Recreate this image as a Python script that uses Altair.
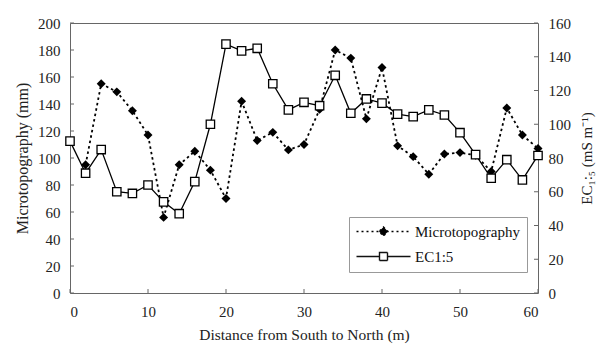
import altair as alt
import pandas as pd

# ---- data ----
distance = [0, 2, 4, 6, 8, 10, 12, 14, 16, 18, 20, 22, 24, 26, 28, 30,
            32, 34, 36, 38, 40, 42, 44, 46, 48, 50, 52, 54, 56, 58, 60]
microtopography = [None, 95, 155, 149, 135, 117, 56, 95, 105, 91, 70, 142, 113, 119, 106, 110,
                   136, 180, 174, 129, 167, 109, 101, 88, 103, 104, 102, 90, 137, 117, 107]
ec15 = [90, 71, 85, 60, 59, 64, 54, 47, 66, 100, 147.5, 143.5, 145, 124, 108.5, 113,
        111, 129, 106.5, 115, 112.5, 106, 104.5, 108.5, 105.5, 95, 82, 68, 79, 67, 81.5]

left_ticks = [0, 20, 40, 60, 80, 100, 120, 140, 160, 180, 200]
right_ticks = [0, 20, 40, 60, 80, 100, 120, 140, 160]
x_ticks = [0, 10, 20, 30, 40, 50, 60]
series_names = ["Microtopography", "EC1:5"]

W, H = 468, 270
FONT = "Liberation Serif"

micro_df = pd.DataFrame({"x": distance, "val": microtopography}).dropna()
ec_df = pd.DataFrame({"x": distance, "val": ec15})
lt_df = pd.DataFrame({"val": left_ticks})
rt_df = pd.DataFrame({"val": right_ticks})
xt_df = pd.DataFrame({"x": x_ticks})
leg_df = pd.DataFrame({"series": series_names, "x": [-100, -100]})

x_enc = alt.X("x:Q", scale=alt.Scale(domain=[0, 60], nice=False),
              axis=alt.Axis(values=x_ticks, title="Distance from South to North  (m)",
                            ticks=False, domain=False, grid=False, labelPadding=11,
                            titlePadding=8, labelFontSize=15, titleFontSize=15.5,
                            titleFontWeight="normal"))

y_left = alt.Y("val:Q", scale=alt.Scale(domain=[0, 200], nice=False),
               axis=alt.Axis(values=left_ticks, title="Microtopography (mm)", orient="left",
                             ticks=False, domain=False, grid=False, labelPadding=10,
                             titlePadding=7, labelFontSize=15, titleFontSize=16,
                             titleFontWeight="normal"))

y_right = alt.Y("val:Q", scale=alt.Scale(domain=[0, 160], nice=False),
                axis=alt.Axis(values=right_ticks, title="EC\u2081:\u2085 (mS m\u207b\u00b9)",
                              orient="right", ticks=False, domain=False, grid=False,
                              labelPadding=10, titlePadding=24, labelFontSize=15,
                              titleFontSize=15, titleFontWeight="normal", titleAngle=270))

micro_line = alt.Chart(micro_df).mark_line(color="black", strokeWidth=1.8,
                                           strokeDash=[2.5, 3]).encode(x=x_enc, y=y_left)
micro_pts = alt.Chart(micro_df).mark_point(shape="diamond", filled=True, color="black",
                                           size=80, opacity=1).encode(x=x_enc, y=y_left)
left_tk = alt.Chart(lt_df).mark_rule(color="#666", strokeWidth=1).encode(
    y=y_left, x=alt.value(0), x2=alt.value(4))
bottom_tk = alt.Chart(xt_df).mark_rule(color="#666", strokeWidth=1).encode(
    x=x_enc, y=alt.value(H), y2=alt.value(H - 4))

ec_line = alt.Chart(ec_df).mark_line(color="black", strokeWidth=1.3).encode(x=x_enc, y=y_right)
ec_pts = alt.Chart(ec_df).mark_point(shape="square", filled=True, fill="white",
                                     stroke="black", strokeWidth=1.3, size=70,
                                     opacity=1).encode(x=x_enc, y=y_right)
right_tk = alt.Chart(rt_df).mark_rule(color="#666", strokeWidth=1).encode(
    y=y_right, x=alt.value(W - 4), x2=alt.value(W))

# legend symbols: line + marker, shifted right inside the path so no symbolOffset is needed
micro_path = "M-1.4,0L9.4,0M4,-0.9L4.9,0L4,0.9L3.1,0Z"
ec_path = "M-1.4,0L3.2,0M4.8,0L9.4,0M3.2,-0.8L4.8,-0.8L4.8,0.8L3.2,0.8Z"

legend = alt.Legend(title=None, orient="none", legendX=279, legendY=194,
                    strokeColor="#999", padding=7, symbolSize=100, symbolOffset=0,
                    labelOffset=44, rowPadding=9, labelFontSize=15, labelFont=FONT,
                    symbolStrokeWidth=1.4, labelColor="#111", columns=1,
                    columnPadding=0)

legend_layer = alt.Chart(leg_df).mark_point(strokeWidth=1.4, size=100,
                                            opacity=1, clip=True).encode(
    x=x_enc,
    shape=alt.Shape("series:N", scale=alt.Scale(domain=series_names,
                                                range=[micro_path, ec_path]), legend=legend),
    fill=alt.Fill("series:N", scale=alt.Scale(domain=series_names,
                                              range=["black", "white"]), legend=legend),
    stroke=alt.Stroke("series:N", scale=alt.Scale(domain=series_names,
                                                  range=["black", "#111"]), legend=legend),
    strokeDash=alt.StrokeDash("series:N", scale=alt.Scale(domain=series_names,
                                                          range=[[2, 3], [1, 0]]), legend=legend),
)

micro_layer = alt.layer(left_tk, bottom_tk, micro_line, micro_pts)
ec_layer = alt.layer(right_tk, ec_line, ec_pts)

chart = alt.layer(micro_layer, ec_layer, legend_layer).resolve_scale(
    y="independent"
).properties(
    width=W, height=H,
    autosize=alt.AutoSizeParams(type="none"),
    padding={"left": 70, "top": 23, "right": 58, "bottom": 56},
).configure_view(
    stroke="#666", strokeWidth=1
).configure_axis(
    labelFont=FONT, titleFont=FONT, labelColor="#222", titleColor="#222"
).configure_legend(
    labelFont=FONT
)

chart.save("out.html", embed_options={"renderer": "svg", "actions": False})
